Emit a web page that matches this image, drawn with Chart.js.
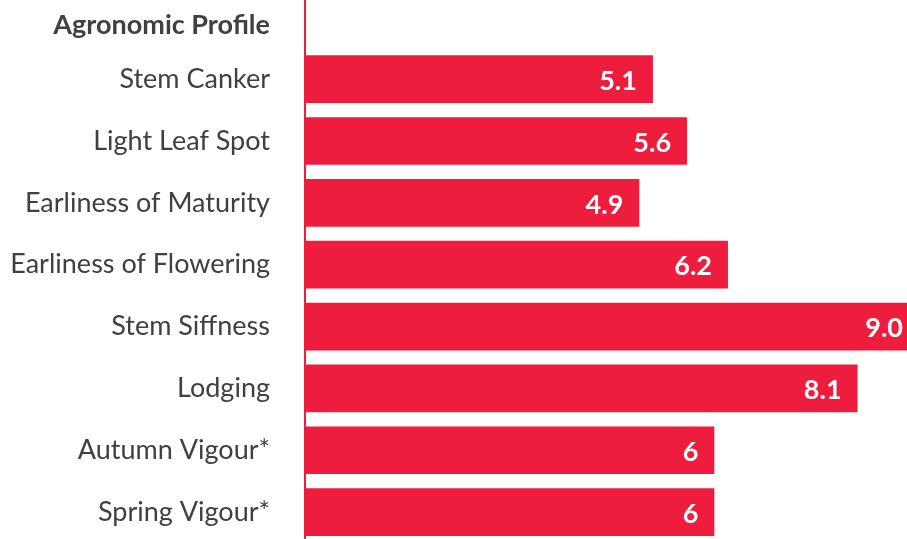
<!DOCTYPE html>
<html>
<head>
<meta charset="utf-8">
<script src="https://cdn.jsdelivr.net/npm/chart.js@4"></script>
<style>
  html, body { margin: 0; padding: 0; background: #ffffff; overflow: hidden; width: 907px; height: 539px; }
  #wrap { position: absolute; left: 0; top: -15.5px; width: 919px; height: 559.4px; }
</style>
</head>
<body>
<div id="wrap"><canvas id="c"></canvas></div>
<script>
const categories = ["Agronomic Profile", "Stem Canker", "Light Leaf Spot", "Earliness of Maturity", "Earliness of Flowering", "Stem Siffness", "Lodging", "Autumn Vigour*", "Spring Vigour*"];
const scores = [null, 5.1, 5.6, 4.9, 6.2, 9.0, 8.1, 6, 6];
const scoreLabels = ["", "5.1", "5.6", "4.9", "6.2", "9.0", "8.1", "6", "6"];

const RED = "#EE1D3D";
const FONT = "Lato, 'Open Sans', sans-serif";

const valueLabels = {
  id: "valueLabels",
  afterDatasetsDraw(chart) {
    const ctx = chart.ctx;
    const meta = chart.getDatasetMeta(0);
    ctx.save();
    ctx.fillStyle = "#ffffff";
    ctx.font = "bold 27px " + FONT;
    ctx.textAlign = "right";
    ctx.textBaseline = "middle";
    meta.data.forEach((bar, i) => {
      if (scores[i] == null) return;
      ctx.fillText(scoreLabels[i], bar.x - 16, bar.y + 2);
    });
    // header row label (sits a little lower than its row centre)
    const yScale = chart.scales.y;
    ctx.fillStyle = "#404040";
    ctx.font = "bold 27px " + FONT;
    ctx.fillText(categories[0], yScale.right - 35, yScale.getPixelForTick(0) + 8);
    ctx.restore();
  }
};

new Chart(document.getElementById("c"), {
  type: "bar",
  data: {
    labels: categories,
    datasets: [{
      data: scores,
      backgroundColor: RED,
      borderWidth: 0,
      categoryPercentage: 1,
      barPercentage: 0.771
    }]
  },
  options: {
    indexAxis: "y",
    responsive: true,
    maintainAspectRatio: false,
    animation: false,
    layout: { padding: 0 },
    plugins: { legend: { display: false }, tooltip: { enabled: false } },
    scales: {
      x: { display: false, min: 0, max: 9 },
      y: {
        afterFit(scale) { scale.width = 305; },
        grid: { display: true, drawOnChartArea: false, drawTicks: true, tickLength: 35, color: "rgba(0,0,0,0)" },
        border: { display: true, color: RED, width: 2 },
        ticks: {
          padding: 0,
          color: "#404040",
          callback: function (value, index) { return index === 0 ? "" : this.getLabelForValue(value); },
          font: { family: FONT, size: 27, lineHeight: 0.1 }
        }
      }
    }
  },
  plugins: [valueLabels]
});
</script>
</body>
</html>
